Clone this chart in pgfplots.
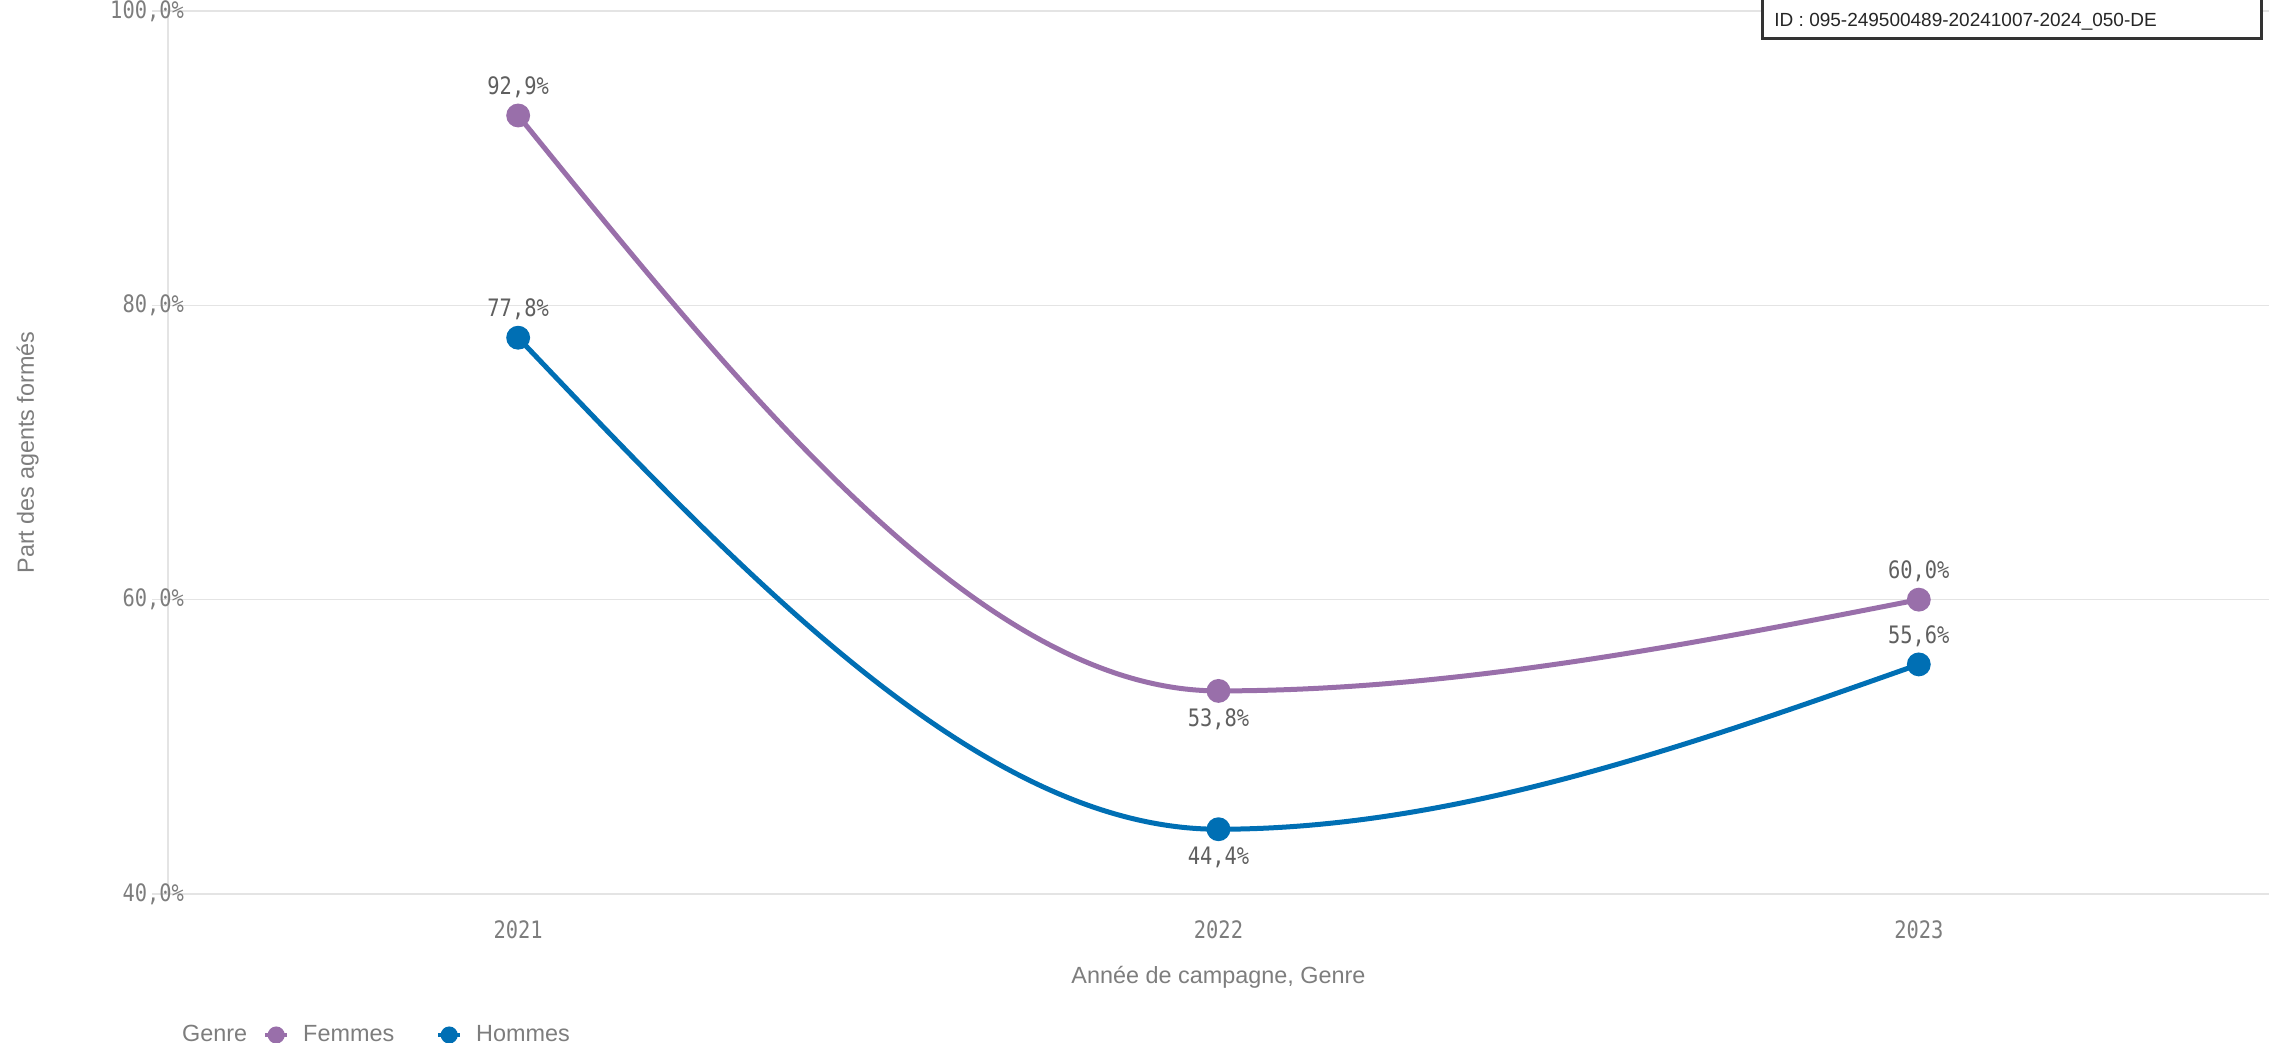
\documentclass[border=0pt]{standalone}
\usepackage{pgfplots}
\pgfplotsset{compat=1.18}
\usepackage{fontspec}
\setmainfont{Liberation Sans}
\newfontfamily\numfont[FakeStretch=0.85]{DejaVu Sans Mono}
\definecolor{fem}{RGB}{153,111,170}
\definecolor{hom}{RGB}{0,111,180}
\definecolor{gridc}{RGB}{228,228,228}
\definecolor{tickc}{RGB}{125,125,125}
\definecolor{labc}{RGB}{95,95,95}
% monotone cubic (monotone-x) plot handler
\makeatletter
\newcount\mono@cnt \newcount\mono@i \newcount\mono@j \newcount\mono@k
\def\mono@get#1#2{\csname mono@#1\number#2\endcsname}
\def\pgfplothandlermono{%
  \def\pgf@plotstreamstart{%
    \global\mono@cnt=0\relax
    \global\let\pgf@plotstreampoint=\mono@point
    \global\let\pgf@plotstreamspecial=\pgfutil@gobble
    \global\let\pgf@plotstreamend=\mono@end
  }%
}
\def\mono@point#1{%
  \global\advance\mono@cnt by 1\relax
  \pgf@process{#1}%
  \expandafter\xdef\csname mono@x\the\mono@cnt\endcsname{\pgf@sys@tonumber\pgf@x}%
  \expandafter\xdef\csname mono@y\the\mono@cnt\endcsname{\pgf@sys@tonumber\pgf@y}%
}
\def\mono@end{%
  \ifnum\mono@cnt>1\relax
    % secant slopes and widths
    \mono@i=1\relax
    \loop\ifnum\mono@i<\mono@cnt
      \mono@j=\mono@i \advance\mono@j by 1\relax
      \edef\mono@xa{\mono@get{x}{\mono@i}}\edef\mono@xb{\mono@get{x}{\mono@j}}%
      \edef\mono@ya{\mono@get{y}{\mono@i}}\edef\mono@yb{\mono@get{y}{\mono@j}}%
      \pgfmathsetmacro\mono@tmp{((\mono@yb)-(\mono@ya))/((\mono@xb)-(\mono@xa))}%
      \expandafter\let\csname mono@d\number\mono@i\endcsname\mono@tmp
      \pgfmathsetmacro\mono@tmp{(\mono@xb)-(\mono@xa)}%
      \expandafter\let\csname mono@w\number\mono@i\endcsname\mono@tmp
      \advance\mono@i by 1\relax
    \repeat
    % interior tangents
    \mono@i=2\relax
    \loop\ifnum\mono@i<\mono@cnt
      \mono@j=\mono@i \advance\mono@j by -1\relax
      \edef\mono@da{\mono@get{d}{\mono@j}}\edef\mono@db{\mono@get{d}{\mono@i}}%
      \edef\mono@wa{\mono@get{w}{\mono@j}}\edef\mono@wb{\mono@get{w}{\mono@i}}%
      \pgfmathsetmacro\mono@p{((\mono@da)*(\mono@wb)+(\mono@db)*(\mono@wa))/((\mono@wa)+(\mono@wb))}%
      \pgfmathsetmacro\mono@tmp{(sign(\mono@da)+sign(\mono@db))*min(abs(\mono@da),abs(\mono@db),0.5*abs(\mono@p))}%
      \expandafter\let\csname mono@m\number\mono@i\endcsname\mono@tmp
      \advance\mono@i by 1\relax
    \repeat
    % end tangents
    \ifnum\mono@cnt>2\relax
      \pgfmathsetmacro\mono@tmp{(3*(\mono@get{d}{1})-(\mono@get{m}{2}))/2}%
      \expandafter\let\csname mono@m1\endcsname\mono@tmp
      \mono@k=\mono@cnt \advance\mono@k by -1\relax
      \pgfmathsetmacro\mono@tmp{(3*(\mono@get{d}{\mono@k})-(\mono@get{m}{\mono@k}))/2}%
      \expandafter\let\csname mono@m\number\mono@cnt\endcsname\mono@tmp
    \else
      \expandafter\edef\csname mono@m1\endcsname{\mono@get{d}{1}}%
      \expandafter\edef\csname mono@m2\endcsname{\mono@get{d}{1}}%
    \fi
    \pgfpathmoveto{\pgfqpoint{\mono@get{x}{1}pt}{\mono@get{y}{1}pt}}%
    \mono@i=1\relax
    \loop\ifnum\mono@i<\mono@cnt
      \mono@j=\mono@i \advance\mono@j by 1\relax
      \edef\mono@xa{\mono@get{x}{\mono@i}}\edef\mono@xb{\mono@get{x}{\mono@j}}%
      \edef\mono@ya{\mono@get{y}{\mono@i}}\edef\mono@yb{\mono@get{y}{\mono@j}}%
      \edef\mono@ma{\mono@get{m}{\mono@i}}\edef\mono@mb{\mono@get{m}{\mono@j}}%
      \pgfmathsetmacro\mono@h{((\mono@xb)-(\mono@xa))/3}%
      \pgfmathsetmacro\mono@cax{(\mono@xa)+(\mono@h)}%
      \pgfmathsetmacro\mono@cay{(\mono@ya)+(\mono@ma)*(\mono@h)}%
      \pgfmathsetmacro\mono@cbx{(\mono@xb)-(\mono@h)}%
      \pgfmathsetmacro\mono@cby{(\mono@yb)-(\mono@mb)*(\mono@h)}%
      \pgfpathcurveto{\pgfqpoint{\mono@cax pt}{\mono@cay pt}}{\pgfqpoint{\mono@cbx pt}{\mono@cby pt}}{\pgfqpoint{\mono@xb pt}{\mono@yb pt}}%
      \advance\mono@i by 1\relax
    \repeat
  \fi
}
\tikzset{mono/.code={\let\tikz@plot@handler=\pgfplothandlermono}}
\makeatother
\begin{document}
\begin{tikzpicture}
\useasboundingbox (0,0) rectangle (1134.5pt,521.5pt);
\begin{axis}[
  at={(84pt,74.5pt)}, anchor=south west,
  scale only axis, width=1050.5pt, height=441.5pt,
  xmin=-0.5, xmax=2.5, ymin=40, ymax=100,
  clip=false,
  axis lines=left, axis line style={draw=gridc, line width=0.8pt, -},
  xtick={0,1,2}, xticklabels={2021,2022,2023},
  ytick={40,60,80,100}, yticklabels={{40,0\%},{60,0\%},{80,0\%},{100,0\%}},
  ymajorgrids, grid style={draw=gridc, line width=0.8pt},
  xtick style={draw=none},
  ytick style={draw=gridc, line width=0.8pt},
  tick align=outside, major tick length=8pt,
  ticklabel style={font=\numfont\fontsize{12}{14}\selectfont, text=tickc},
  xticklabel style={yshift=-1.7pt},
  yticklabel style={xshift=19.5pt},
  xlabel={Année de campagne, Genre},
  ylabel={Part des agents formés},
  label style={font=\fontsize{11.7}{14}\selectfont, text=tickc},
  xlabel style={at={(axis description cs:0.5,0)}, anchor=center, yshift=-41.5pt},
  ylabel style={at={(axis description cs:0,0.5)}, anchor=center, yshift=70.2pt},
  legend columns=-1,
  legend style={at={(axis description cs:0,0)}, anchor=west, xshift=-3.1pt, yshift=-70.5pt,
    draw=none, fill=none, font=\fontsize{11.7}{14}\selectfont, text=tickc,
    /tikz/every odd column/.append style={column sep=5pt},
    /tikz/every even column/.append style={column sep=6pt}},
  legend image code/.code={\draw[#1, mark=none, line width=2pt] (0pt,0pt) -- (11pt,0pt);
    \fill[#1] (5.5pt,0pt) circle (3pt);},
  /pgf/number format/assume math mode=true,
]
\addlegendimage{empty legend}
\addlegendentry{Genre}
\addplot[fem, line width=2.5pt, mono, mark=*, mark size=4.7pt, mark options={fill=fem, draw=fem}]
  coordinates {(0,92.9) (1,53.8) (2,60.0)};
\addlegendentry{Femmes\kern13pt}
\addplot[hom, line width=2.5pt, mono, mark=*, mark size=4.7pt, mark options={fill=hom, draw=hom}]
  coordinates {(0,77.8) (1,44.4) (2,55.6)};
\addlegendentry{Hommes}
% data labels above
\addplot[draw=none, mark=none, forget plot, point meta=y,
  nodes near coords={\pgfmathprintnumber[fixed,fixed zerofill,precision=1,use comma]{\pgfplotspointmeta}\%},
  every node near coord/.style={anchor=center, yshift=14pt, text=labc, font=\numfont\fontsize{12}{14}\selectfont}]
  coordinates {(0,92.9) (0,77.8) (2,60.0) (2,55.6)};
% data labels below
\addplot[draw=none, mark=none, forget plot, point meta=y,
  nodes near coords={\pgfmathprintnumber[fixed,fixed zerofill,precision=1,use comma]{\pgfplotspointmeta}\%},
  every node near coord/.style={anchor=center, yshift=-14pt, text=labc, font=\numfont\fontsize{12}{14}\selectfont}]
  coordinates {(1,53.8) (1,44.4)};
\end{axis}
\draw[line width=1.5pt, draw=black!80, fill=white] (881pt,502pt) rectangle (1130.5pt,535pt);
\node[anchor=west, inner sep=0pt, font=\fontsize{9.5}{11}\selectfont, text=black!85] at (887pt,510.5pt) {ID : 095-249500489-20241007-2024\_050-DE};
\end{tikzpicture}
\end{document}
